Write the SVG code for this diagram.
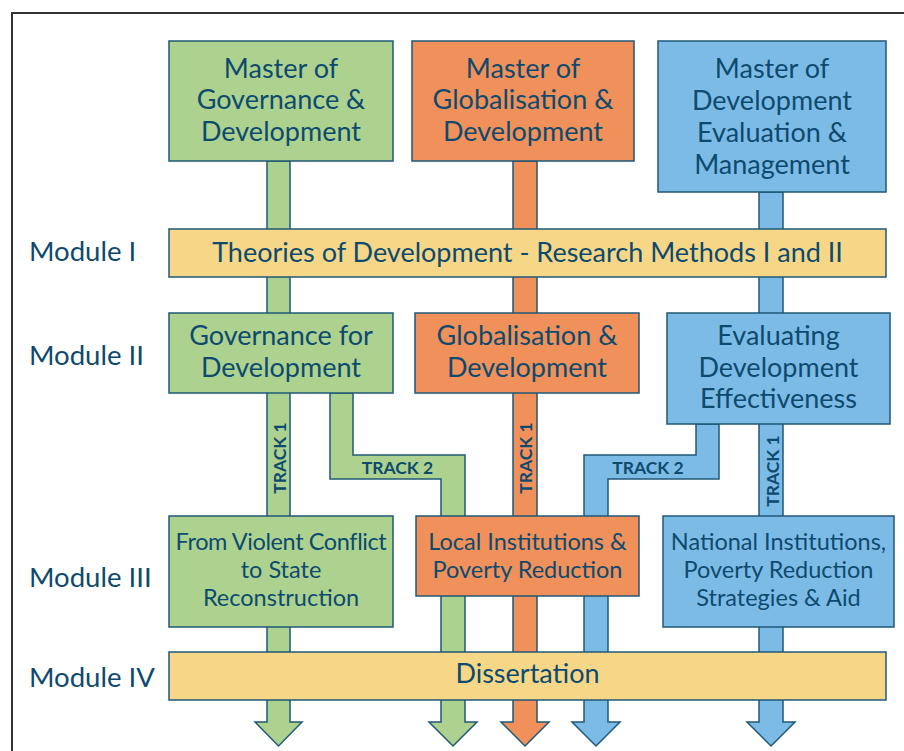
<svg xmlns="http://www.w3.org/2000/svg" width="904" height="751" viewBox="0 0 904 751">
<style>
.g{fill:#add28f}.o{fill:#f0905a}.b{fill:#7dbbe7}.y{fill:#f6d788}
.s{stroke:#1f5878;stroke-width:1.5}
text{font-family:Lato,"Liberation Sans",sans-serif;fill:#0e4a6e}
.t{font-size:27px;text-anchor:middle}
.m{font-size:27.5px}
.t3{font-size:23.5px;text-anchor:middle}
.tr{font-size:17.5px;font-weight:bold;text-anchor:middle;dominant-baseline:central}
</style>
<rect x="0" y="0" width="904" height="751" fill="#fff"/>
<path d="M12 751 V13 H904" fill="none" stroke="#333" stroke-width="2"/>
<g id="connectors">
<polygon class="g s" points="267,161 290,161 290,722 302,722 278.5,746 255,722 267,722"/>
<polygon class="g s" points="330,393 353,393 353,455 465,455 465,722 477,722 453,746 429,722 441,722 441,479 330,479"/>
<polygon class="o s" points="513,161 537,161 537,722 549,722 525,746 501,722 513,722"/>
<polygon class="b s" points="719,424 696,424 696,455 584,455 584,722 572,722 596,746 620,722 608,722 608,479 719,479"/>
<polygon class="b s" points="759,192 783,192 783,722 795,722 771,746 747,722 759,722"/>
<text class="tr" transform="translate(279,458) rotate(-90)">TRACK 1</text>
<text class="tr" transform="translate(525,458) rotate(-90)">TRACK 1</text>
<text class="tr" transform="translate(772,471) rotate(-90)">TRACK 1</text>
<text class="tr" x="397.5" y="467">TRACK 2</text>
<text class="tr" x="648" y="467">TRACK 2</text>
</g>
<g id="labels">
<text class="m" x="29" y="261">Module I</text>
<text class="m" x="29" y="365">Module II</text>
<text class="m" x="29" y="587">Module III</text>
<text class="m" x="29" y="687">Module IV</text>
</g>
<g id="master-gov">
<rect class="g s" x="169" y="41" width="224" height="120"/>
<text class="t" x="281" y="78">Master of</text>
<text class="t" x="281" y="109">Governance &amp;</text>
<text class="t" x="281" y="141">Development</text>
</g>
<g id="master-glob">
<rect class="o s" x="412" y="41" width="222" height="120"/>
<text class="t" x="523" y="78">Master of</text>
<text class="t" x="523" y="109">Globalisation &amp;</text>
<text class="t" x="523" y="141">Development</text>
</g>
<g id="master-dev">
<rect class="b s" x="658" y="41" width="228" height="151"/>
<text class="t" x="772" y="78">Master of</text>
<text class="t" x="772" y="110">Development</text>
<text class="t" x="772" y="142">Evaluation &amp;</text>
<text class="t" x="772" y="174">Management</text>
</g>
<g id="module1">
<rect class="y s" x="169" y="229" width="717" height="48"/>
<text class="t" x="527.5" y="262">Theories of Development - Research Methods I and II</text>
</g>
<g id="gov-dev">
<rect class="g s" x="169" y="313" width="224" height="80"/>
<text class="t" x="281" y="345">Governance for</text>
<text class="t" x="281" y="377">Development</text>
</g>
<g id="glob-dev">
<rect class="o s" x="415" y="313" width="224" height="80"/>
<text class="t" x="527" y="345">Globalisation &amp;</text>
<text class="t" x="527" y="377">Development</text>
</g>
<g id="eval-dev">
<rect class="b s" x="667" y="313" width="223" height="111"/>
<text class="t" x="778.5" y="345">Evaluating</text>
<text class="t" x="778.5" y="377">Development</text>
<text class="t" x="778.5" y="408">Effectiveness</text>
</g>
<g id="violent-conflict">
<rect class="g s" x="169" y="516" width="224" height="111"/>
<text class="t3" x="281" y="550" style="letter-spacing:-0.4px">From Violent Conflict</text>
<text class="t3" x="281" y="578">to State</text>
<text class="t3" x="281" y="606">Reconstruction</text>
</g>
<g id="local-inst">
<rect class="o s" x="416" y="516" width="223" height="80"/>
<text class="t3" x="527.5" y="550">Local Institutions &amp;</text>
<text class="t3" x="527.5" y="578">Poverty Reduction</text>
</g>
<g id="national-inst">
<rect class="b s" x="663" y="516" width="231" height="111"/>
<text class="t3" x="778.5" y="550">National Institutions,</text>
<text class="t3" x="778.5" y="578">Poverty Reduction</text>
<text class="t3" x="778.5" y="606">Strategies &amp; Aid</text>
</g>
<g id="module4">
<rect class="y s" x="169" y="652" width="717" height="48"/>
<text class="t" x="527.5" y="683">Dissertation</text>
</g>
</svg>
